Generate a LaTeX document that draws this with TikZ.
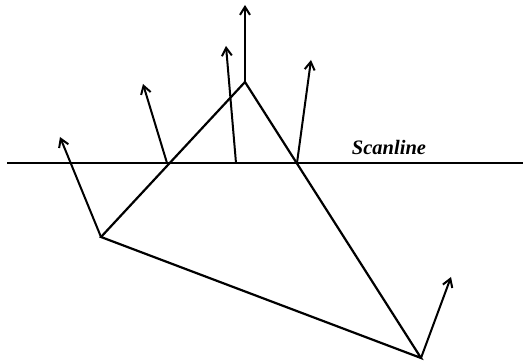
\documentclass[tikz,border=0pt]{standalone}
\usepackage{fontspec}
\setmainfont{Liberation Serif}
\usetikzlibrary{arrows.meta}
\begin{document}
\begin{tikzpicture}[x=1pt,y=-1pt,
  edge/.style={line width=2.2pt,line join=miter},
  normal/.style={line width=2pt,-{Straight Barb[length=8pt,width=10pt,line width=2pt]}}]
\useasboundingbox (0,0) rectangle (523,363);
% triangle vertices
\coordinate (T) at (245,82);
\coordinate (L) at (101,237);
\coordinate (R) at (421,358);
% scanline ends
\coordinate (S0) at (7,163);
\coordinate (S1) at (523,163);
% scanline points
\coordinate (PL) at (167,163);
\coordinate (PM) at (236,163);
\coordinate (PR) at (297,163);
% normal tips
\coordinate (nT) at (245,5);
\coordinate (nL) at (60,137);
\coordinate (nR) at (451,277);
\coordinate (nPL) at (143,84);
\coordinate (nPM) at (226,46);
\coordinate (nPR) at (311,60);
\draw[edge] (T) -- (L) -- (R) -- cycle;
\draw[edge] (S0) -- (S1);
\draw[normal] (T) -- (nT);
\draw[normal] (L) -- (nL);
\draw[normal] (R) -- (nR);
\draw[normal] (PL) -- (nPL);
\draw[normal] (PM) -- (nPM);
\draw[normal] (PR) -- (nPR);
\node[font=\fontsize{20.5}{24}\selectfont\bfseries\itshape] (lab) at (389,147) {Scanline};
\end{tikzpicture}
\end{document}
